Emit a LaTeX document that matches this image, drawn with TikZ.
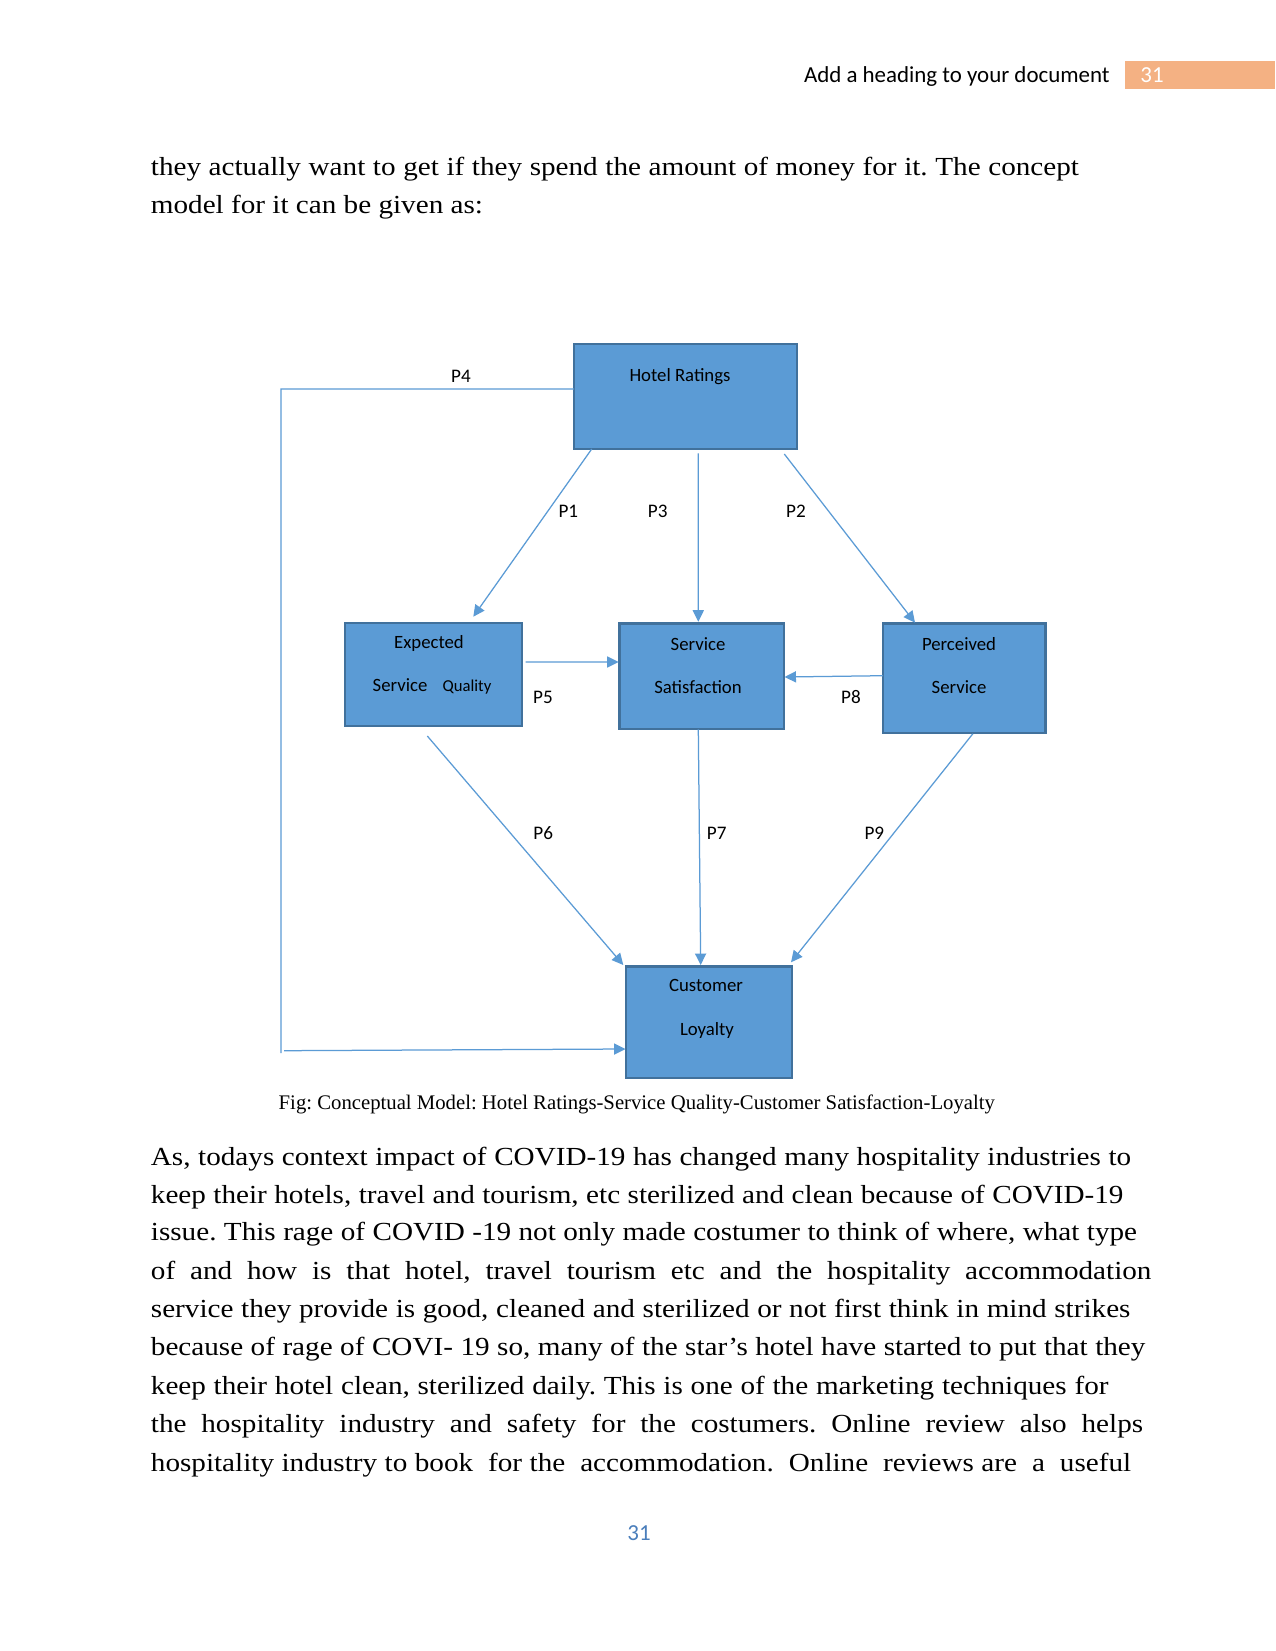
\documentclass[tikz,border=0pt]{standalone}
\usepackage{fontspec}
\setmainfont{Liberation Serif}
\newfontfamily\calfont{Carlito}
\newfontfamily\bodyfont[FakeStretch=1.12]{Liberation Serif}
\usetikzlibrary{arrows.meta,fit,calc}
\definecolor{boxblue}{HTML}{5B9BD5}
\definecolor{boxedge}{HTML}{41719C}
\definecolor{hdrorange}{HTML}{F4B183}
\definecolor{pgblue}{HTML}{4A7EBB}
\newdimen\pxu \pxu=0.48pt
\frenchspacing
\begin{document}
\frenchspacing
\begin{tikzpicture}[x=0.48pt,y=-0.48pt,
 box/.style={draw=boxedge, line width=1pt, fill=boxblue, inner sep=0pt, outer sep=0pt},
 arr/.style={draw=boxblue, line width=0.6pt, -{Triangle[length=5.5pt,width=5.3pt]}},
 conn/.style={draw=boxblue, line width=0.6pt},
 dtxt/.style={font=\calfont\fontsize{9}{11}\selectfont, inner sep=0pt, anchor=base},
 plbl/.style={font=\calfont\fontsize{9.2}{11}\selectfont, inner sep=0pt},
 bodyline/.style={font=\bodyfont\fontsize{12.5}{15}\selectfont\frenchspacing, inner sep=0pt, anchor=base west},
 hdr/.style={font=\calfont\fontsize{11}{13}\selectfont, inner sep=0pt},
]
\useasboundingbox (0,0) rectangle (1275,1651);
\fill[white] (0,0) rectangle (1275,1651);

% header
\node[fill=hdrorange, inner sep=0pt, outer sep=0pt, fit={(1125,61)(1275,89)}] (hbar) {};
\node[hdr, anchor=base east] (head) at (1110,83) {Add a heading to your document};
\node[hdr, anchor=base west, text=white] (hnum) at (1140,83) {31};

% first paragraph
\node[bodyline] (a1) at (150.5,175.7) {\makebox[928\pxu][s]{they actually want to get if they spend the amount of money for it. The concept}};
\node[bodyline] (a2) at (150.5,214) {model for it can be given as:};

% diagram boxes
\node[box, fit={(574,344)(797,449)}] (hotel) {};
\node[dtxt] (hotelT) at (680,381.5) {Hotel Ratings};

\node[box, fit={(345,622.7)(522,726)}] (exp) {};
\node[dtxt] (expT1) at (429,648) {Expected};
\node[dtxt] (expT2) at (400,691.7) {Service};
\node[dtxt, font=\calfont\fontsize{8}{10}\selectfont] (expT3) at (467,691.7) {Quality};

\node[box, fit={(619.5,623.5)(784.3,729)}] (sat) {};
\node[dtxt] (satT1) at (698,650.7) {Service};
\node[dtxt] (satT2) at (698,693) {Satisfaction};

\node[box, fit={(882.7,623.5)(1045.5,733)}] (per) {};
\node[dtxt] (perT1) at (959,650) {Perceived};
\node[dtxt] (perT2) at (959,693) {Service};

\node[box, fit={(626,966.5)(792,1078)}] (loy) {};
\node[dtxt] (loyT1) at (706,991.7) {Customer};
\node[dtxt] (loyT2) at (707,1035) {Loyalty};

% connectors
\draw[arr] ($(hotel.south west)+(17.7,0)$) -- ($(exp.north west)+(128.3,-6)$);
\draw[arr] ($(hotel.south west)+(124.3,4.3)$) -- ($(sat.north west)+(78.8,-1.8)$);
\draw[arr] ($(hotel.south west)+(210.3,5)$) -- ($(per.north west)+(32.3,-0.8)$);
\draw[arr] ($(exp.north east)+(3.5,39.3)$) -- ($(sat.north west)+(-0.9,38.5)$);
\draw[arr] ($(per.north west)+(0.3,52.2)$) -- ($(sat.north east)+(0.2,53.5)$);
\draw[arr] ($(exp.south west)+(82.3,10)$) -- ($(loy.north west)+(-2.7,-1.5)$);
\draw[arr] ($(sat.south west)+(78.8,0.3)$) -- ($(loy.north west)+(74.7,-1.5)$);
\draw[arr] ($(per.south west)+(90.1,0.8)$) -- ($(loy.north east)+(-1,-4.2)$);
\coordinate (p4a) at (281,389);
\coordinate (p4b) at (281,1053);
\coordinate (p4c) at (284,1050.7);
\draw[conn] ($(hotel.north west)+(0,45)$) -- (p4a) -- (p4b);
\draw[arr] (p4c) -- ($(loy.south west)+(-0.5,-29)$);

% labels
\node[plbl] (l4) at (461,376.7) {P4};
\node[plbl] (l1) at (568.3,511.7) {P1};
\node[plbl] (l3) at (657.7,511.7) {P3};
\node[plbl] (l2) at (796,511.7) {P2};
\node[plbl] (l5) at (543,697) {P5};
\node[plbl] (l8) at (851,697) {P8};
\node[plbl] (l6) at (543.3,833.3) {P6};
\node[plbl] (l7) at (716.7,833.3) {P7};
\node[plbl] (l9) at (874.3,833.3) {P9};

% caption
\node[font=\fontsize{9.95}{12}\selectfont\frenchspacing, anchor=base west, inner sep=0pt] (cap) at (278.3,1109) {Fig: Conceptual Model: Hotel Ratings-Service Quality-Customer Satisfaction-Loyalty};

% second paragraph
\node[bodyline] (b1) at (150.5,1165) {\makebox[980.2\pxu][s]{As, todays context impact of COVID-19 has changed many hospitality industries to}};
\node[bodyline] (b2) at (150.5,1203) {\makebox[972.5\pxu][s]{keep their hotels, travel and tourism, etc sterilized and clean because of COVID-19}};
\node[bodyline] (b3) at (150.5,1240.5) {\makebox[986.2\pxu][s]{issue. This rage of COVID -19 not only made costumer to think of where, what type}};
\node[bodyline] (b4) at (150.5,1279) {\makebox[1000.5\pxu][s]{of and how is that hotel, travel tourism etc and the hospitality accommodation}};
\node[bodyline] (b5) at (150.5,1317) {\makebox[979.5\pxu][s]{service they provide is good, cleaned and sterilized or not first think in mind strikes}};
\node[bodyline] (b6) at (150.5,1355.5) {\makebox[994.5\pxu][s]{because of rage of COVI- 19 so, many of the star’s hotel have started to put that they}};
\node[bodyline] (b7) at (150.5,1394) {\makebox[957.5\pxu][s]{keep their hotel clean, sterilized daily. This is one of the marketing techniques for}};
\node[bodyline] (b8) at (150.5,1432.5) {\makebox[992.2\pxu][s]{the hospitality industry and safety for the costumers. Online review also helps}};
\node[bodyline] (b9) at (150.5,1471) {\makebox[980.2\pxu][s]{hospitality industry to book\ \ for the\ \ accommodation.\ \ Online\ \ reviews are\ \ a\ \ useful}};

% page number
\node[hdr, anchor=base, text=pgblue] (pnum) at (639,1540) {31};
\end{tikzpicture}
\end{document}
